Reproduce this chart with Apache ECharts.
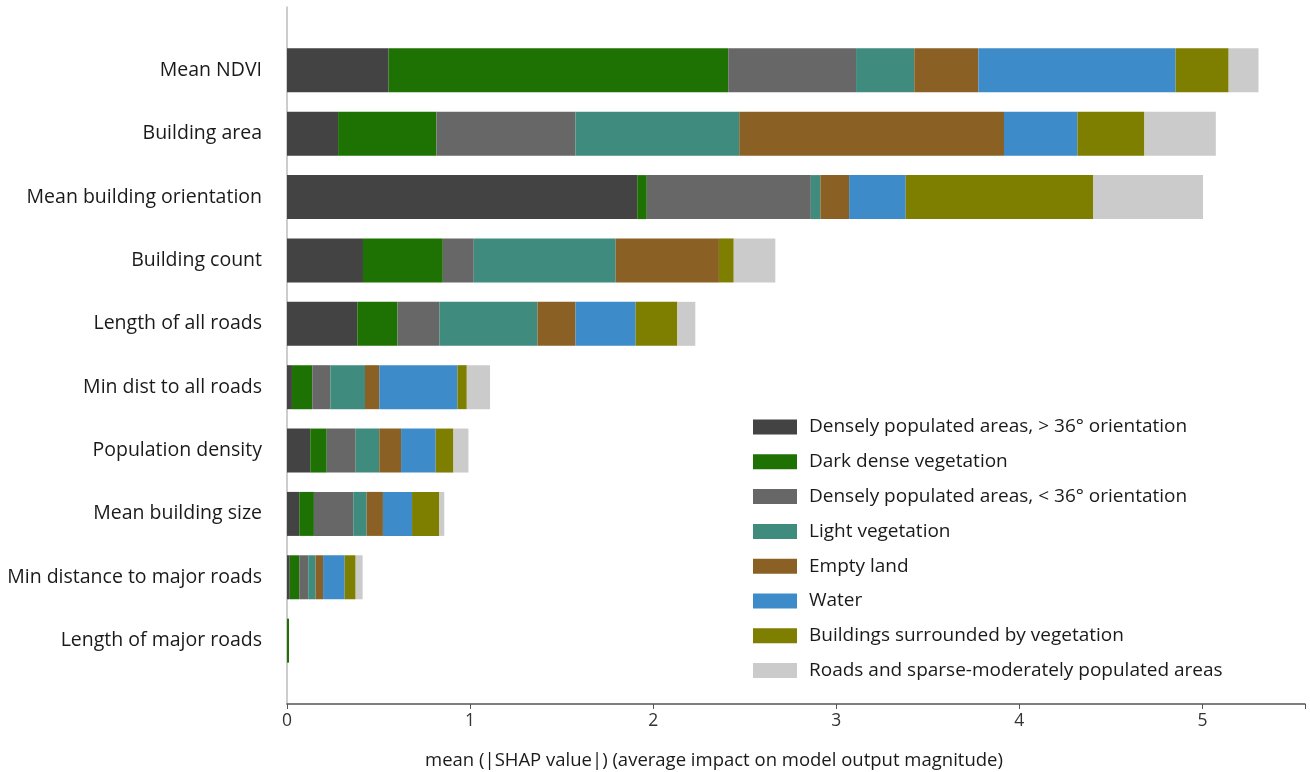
<!DOCTYPE html>
<html>
<head>
<meta charset="utf-8">
<title>Mean |SHAP value| by feature and land-cover class</title>
<script src="https://cdn.jsdelivr.net/npm/echarts@6/dist/echarts.min.js"></script>
<style>
  html, body { margin: 0; padding: 0; background: #ffffff; }
  #chart { width: 1310px; height: 772px; }
</style>
</head>
<body>
<div id="chart"></div>
<script>
// Features, listed top to bottom
const features = [
  'Mean NDVI',
  'Building area',
  'Mean building orientation',
  'Building count',
  'Length of all roads',
  'Min dist to all roads',
  'Population density',
  'Mean building size',
  'Min distance to major roads',
  'Length of major roads'
];

// Land-cover classes (legend order)
const classNames = [
  'Densely populated areas, > 36° orientation',
  'Dark dense vegetation',
  'Densely populated areas, < 36° orientation',
  'Light vegetation',
  'Empty land',
  'Water',
  'Buildings surrounded by vegetation',
  'Roads and sparse-moderately populated areas'
];

// mean(|SHAP|) per class, in feature order (top to bottom)
const denseOver36   = [0.555, 0.279, 1.913, 0.415, 0.384, 0.027, 0.127, 0.067, 0.015, 0.000];
const darkVeg       = [1.855, 0.537, 0.052, 0.436, 0.219, 0.111, 0.090, 0.080, 0.052, 0.011];
const denseUnder36  = [0.698, 0.759, 0.896, 0.169, 0.229, 0.099, 0.158, 0.215, 0.049, 0.000];
const lightVeg      = [0.318, 0.895, 0.052, 0.775, 0.536, 0.189, 0.129, 0.073, 0.040, 0.000];
const emptyLand     = [0.350, 1.446, 0.157, 0.564, 0.208, 0.078, 0.119, 0.089, 0.041, 0.000];
const water         = [1.077, 0.401, 0.309, 0.000, 0.328, 0.427, 0.189, 0.159, 0.118, 0.000];
const bldgVeg       = [0.290, 0.366, 1.025, 0.081, 0.228, 0.051, 0.097, 0.149, 0.060, 0.000];
const roadsSparse   = [0.163, 0.390, 0.599, 0.227, 0.098, 0.127, 0.082, 0.027, 0.038, 0.000];

const classValues = [denseOver36, darkVeg, denseUnder36, lightVeg, emptyLand, water, bldgVeg, roadsSparse];
const classColors = ['#434343', '#1e7203', '#676767', '#3f8b7e', '#8a6025', '#3e8bca', '#7e7e00', '#cbcbcb'];

const xTicks = [0, 1, 2, 3, 4, 5];

// Category axis runs bottom-up; pad one empty slot at each end so rows sit like a -1..n range
const yCats = [''].concat(features.slice().reverse(), ['']);

const series = classNames.map(function (name, i) {
  const vals = classValues[i].slice().reverse();
  return {
    name: name,
    type: 'bar',
    stack: 'shap',
    barWidth: 44,
    itemStyle: { color: classColors[i] },
    data: [null].concat(vals, [null]),
    emphasis: { disabled: true }
  };
});

const chart = echarts.init(document.getElementById('chart'), null, { renderer: 'canvas' });
chart.setOption({
  animation: false,
  backgroundColor: '#ffffff',
  textStyle: { fontFamily: 'Open Sans' },
  grid: { left: 287, right: 5, top: 7, bottom: 68, containLabel: false, outerBoundsMode: 'none' },
  legend: {
    orient: 'vertical',
    left: 748,
    top: 411,
    icon: 'rect',
    itemWidth: 44,
    itemHeight: 15,
    itemGap: 12.8,
    selectedMode: false,
    data: classNames,
    textStyle: { fontFamily: 'Open Sans', fontSize: 19, color: '#1a1a1a', lineHeight: 22, padding: [0, 0, 0, 7] }
  },
  xAxis: {
    type: 'value',
    min: 0,
    max: 5.56,
    interval: 1,
    name: 'mean (|SHAP value|) (average impact on model output magnitude)',
    nameLocation: 'middle',
    nameGap: 47,
    nameTextStyle: { fontFamily: 'Open Sans', fontSize: 18.5, color: '#1a1a1a', padding: [0, 164, 0, 0] },
    axisLine: { show: true, lineStyle: { color: '#555555', width: 1.5 } },
    axisTick: { show: true, length: 5, lineStyle: { color: '#555555' } },
    axisLabel: {
      fontFamily: 'Open Sans', fontSize: 17.5, color: '#333333', margin: 8,
      formatter: function (v) { return xTicks.indexOf(v) >= 0 ? String(v) : ''; }
    },
    splitLine: { show: false }
  },
  yAxis: {
    type: 'category',
    data: yCats,
    boundaryGap: false,
    axisLine: { show: true, lineStyle: { color: '#bdbdbd', width: 1.5 } },
    axisTick: { show: false },
    axisLabel: { fontFamily: 'Open Sans', fontSize: 19.5, color: '#1a1a1a', margin: 25, interval: 0 },
    splitLine: { show: false }
  },
  series: series
});
</script>
</body>
</html>
